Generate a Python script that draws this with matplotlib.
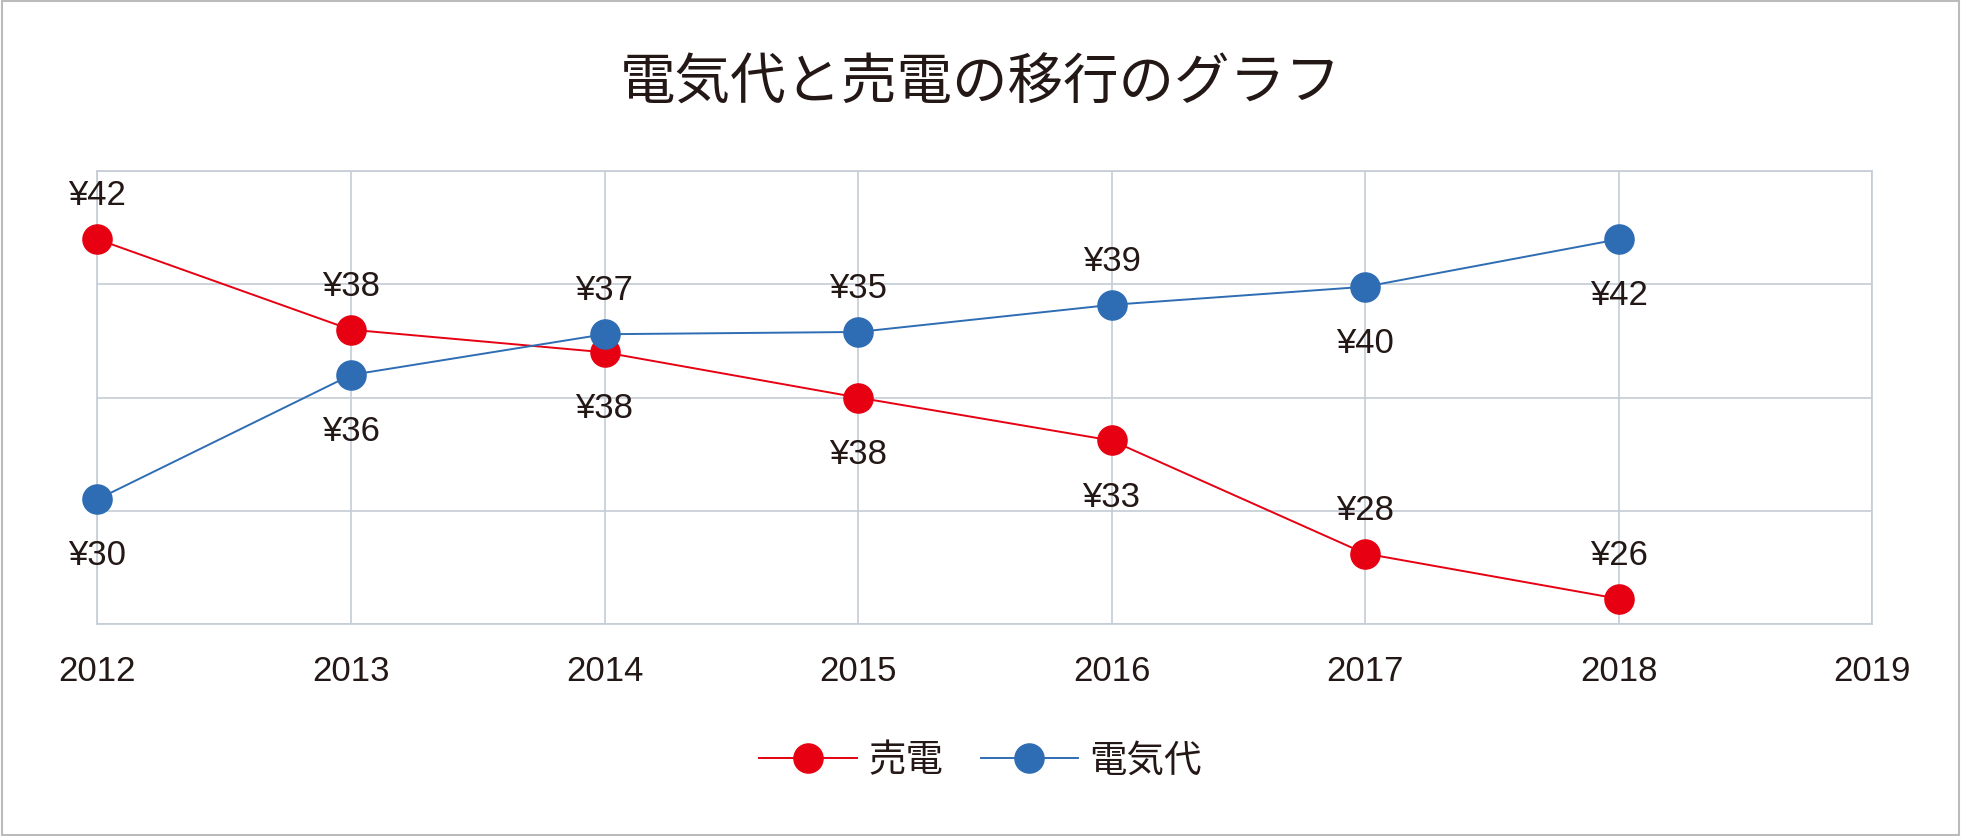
import matplotlib
matplotlib.use("Agg")
import matplotlib.pyplot as plt
from matplotlib.patches import Rectangle

plt.rcParams["font.family"] = ["Liberation Sans", "Noto Sans CJK JP"]

years = [2012, 2013, 2014, 2015, 2016, 2017, 2018]
x_ticks = [2012, 2013, 2014, 2015, 2016, 2017, 2018, 2019]
title = "電気代と売電の移行のグラフ"

sell_name = "売電"
sell_pos = [37.0, 33.0, 32.0, 30.0, 28.1, 23.1, 21.1]
sell_labels = ["¥42", "¥38", "¥38", "¥38", "¥33", "¥28", "¥26"]
sell_above = [True, True, False, False, False, True, True]

elec_name = "電気代"
elec_pos = [25.5, 31.0, 32.8, 32.9, 34.1, 34.9, 37.0]
elec_labels = ["¥30", "¥36", "¥37", "¥35", "¥39", "¥40", "¥42"]
elec_above = [False, False, True, True, True, False, False]

RED = "#e60012"
BLUE = "#2e6db4"

fig = plt.figure(figsize=(19.61, 8.37), dpi=100)
fig.patches.append(Rectangle((0.001, 0.001), 0.998, 0.997, transform=fig.transFigure,
                             fill=False, edgecolor="#bbbbbb", linewidth=1.5))
ax = fig.add_axes([0.0497, 0.2537, 0.905, 0.5403])
ax.set_xlim(2012, 2019)
ax.set_ylim(20, 40)
ax.set_xticks(x_ticks)
ax.set_yticks([20, 25, 30, 35, 40])
ax.set_yticklabels([])
ax.tick_params(axis="y", length=0)
ax.tick_params(axis="x", length=0, labelsize=25, pad=22, labelcolor="#231815")
ax.grid(True, color="#c5ccd6", linewidth=1.2)
for s in ax.spines.values():
    s.set_color("#c5ccd6")
    s.set_linewidth(1.2)

ax.plot(years, sell_pos, color=RED, linewidth=1.4, marker="o", markersize=21,
        label=sell_name, clip_on=False, zorder=3)
ax.plot(years, elec_pos, color=BLUE, linewidth=1.4, marker="o", markersize=21,
        label=elec_name, clip_on=False, zorder=3)

for pos, labs, above in [(sell_pos, sell_labels, sell_above), (elec_pos, elec_labels, elec_above)]:
    for xv, yv, lab, a in zip(years, pos, labs, above):
        ax.annotate(lab, (xv, yv), xytext=(0, 32 if a else -40), textcoords="offset points",
                    ha="center", va="center", fontsize=25, color="#231815", zorder=4)

fig.text(0.5, 0.898, title, ha="center", va="center", fontsize=40, color="#231815")
leg = fig.legend(loc="center", bbox_to_anchor=(0.5, 0.09), ncol=2, frameon=False,
                 fontsize=27, handlelength=2.6, handletextpad=0.3, columnspacing=1.0)
for t in leg.get_texts():
    t.set_color("#231815")
fig.savefig("out.png", dpi=100)
